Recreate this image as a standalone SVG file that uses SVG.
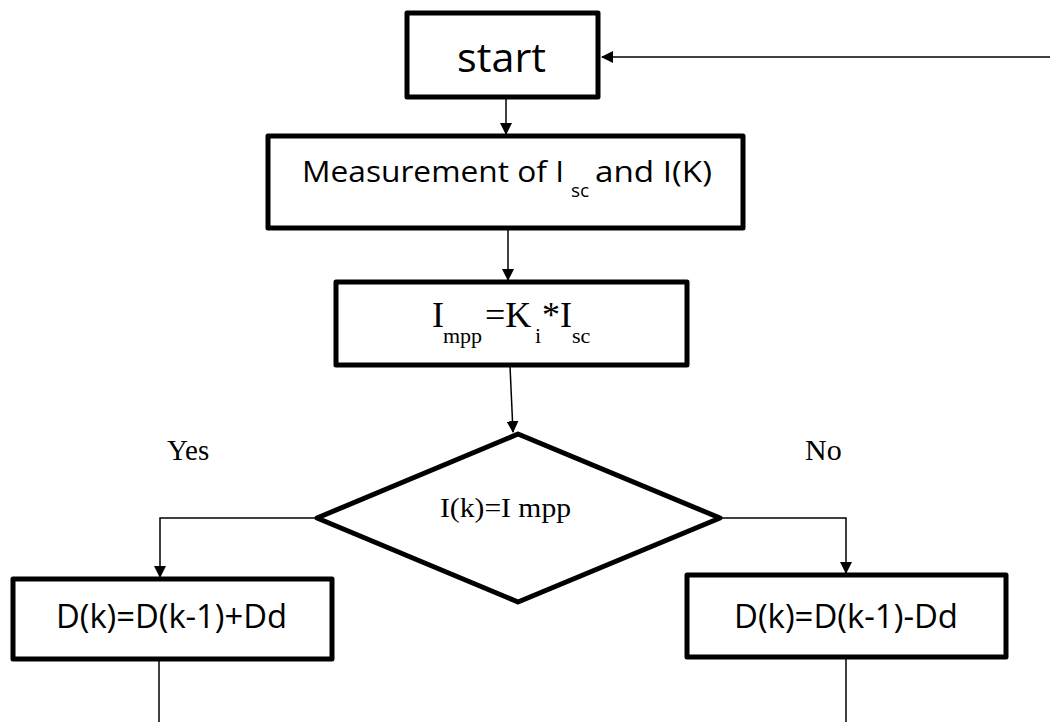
<svg xmlns="http://www.w3.org/2000/svg" width="1050" height="722" viewBox="0 0 1050 722">
<style>
.box{fill:#fff;stroke:#000;stroke-width:5;stroke-linejoin:round}
.conn{fill:none;stroke:#000;stroke-width:1.5}
.sans{font-family:"Open Sans","Liberation Sans",sans-serif;fill:#000}
.serif{font-family:"Liberation Serif","Times New Roman",serif;fill:#000}
</style>
<defs>
<marker id="ah" markerWidth="12" markerHeight="12" refX="11" refY="6" orient="auto" markerUnits="userSpaceOnUse">
<path d="M0,0 L12,6 L0,12 Z" fill="#000"/>
</marker>
</defs>
<rect width="1050" height="722" fill="#fff"/>
<g id="connectors">
<line class="conn" x1="1050" y1="57" x2="602" y2="57" marker-end="url(#ah)"/>
<line class="conn" x1="506" y1="97" x2="506" y2="134" marker-end="url(#ah)"/>
<line class="conn" x1="508" y1="229" x2="508" y2="280" marker-end="url(#ah)"/>
<line class="conn" x1="510" y1="366" x2="513" y2="432" marker-end="url(#ah)"/>
<polyline class="conn" points="317,518 160,518 160,577" marker-end="url(#ah)"/>
<polyline class="conn" points="720,518 846,518 846,573" marker-end="url(#ah)"/>
<line class="conn" x1="159" y1="660" x2="159" y2="722"/>
<line class="conn" x1="846" y1="658" x2="846" y2="722"/>
</g>
<g id="start">
<rect class="box" x="407" y="13" width="191" height="84"/>
<text class="sans" x="457" y="72" font-size="41" textLength="89" lengthAdjust="spacingAndGlyphs">start</text>
</g>
<g id="measurement">
<rect class="box" x="268" y="136" width="475" height="92"/>
<text class="sans" font-size="30"><tspan x="302" y="182" textLength="262" lengthAdjust="spacingAndGlyphs">Measurement of I</tspan><tspan x="571" y="197" font-size="19">sc</tspan><tspan x="595" y="182" textLength="117" lengthAdjust="spacingAndGlyphs">and I(K)</tspan></text>
</g>
<g id="impp">
<rect class="box" x="336" y="282" width="351" height="83"/>
<text class="serif" font-size="36"><tspan x="432" y="327">I</tspan><tspan x="443" y="343" font-size="22">mpp</tspan><tspan x="485" y="327">=K</tspan><tspan x="535" y="343" font-size="22">i</tspan><tspan x="542" y="327">*I</tspan><tspan x="572" y="343" font-size="22">sc</tspan></text>
</g>
<g id="decision">
<polygon class="box" points="518,434 720,518 518,602 317,518"/>
<text class="serif" x="440" y="517" font-size="28" textLength="131" lengthAdjust="spacingAndGlyphs">I(k)=I mpp</text>
</g>
<g id="yes-label"><text class="serif" x="167" y="460" font-size="29">Yes</text></g>
<g id="no-label"><text class="serif" x="805" y="460" font-size="30">No</text></g>
<g id="increase">
<rect class="box" x="13" y="579" width="319" height="80"/>
<text class="sans" x="56" y="628" font-size="32" textLength="231" lengthAdjust="spacingAndGlyphs">D(k)=D(k-1)+Dd</text>
</g>
<g id="decrease">
<rect class="box" x="687" y="575" width="319" height="82"/>
<text class="sans" x="734" y="628" font-size="32" textLength="224" lengthAdjust="spacingAndGlyphs">D(k)=D(k-1)-Dd</text>
</g>
</svg>
